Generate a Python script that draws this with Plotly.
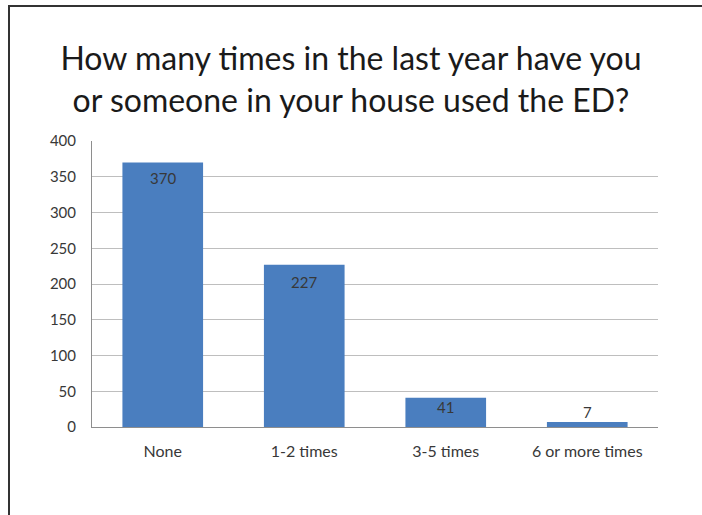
import plotly.graph_objects as go

categories = ["None", "1-2 times", "3-5 times", "6 or more times"]
values = [370, 227, 41, 7]
y_ticks = [0, 50, 100, 150, 200, 250, 300, 350, 400]

title_text = "How many times in the last year have you<br>or someone in your house used the ED?"

FONT = "Lato, 'Open Sans', sans-serif"
TEXT_COLOR = "#383838"
# vertical offset (px) of each value label from its bar top
label_shift = [-16, -17, -9, 10]

fig = go.Figure()
fig.add_trace(go.Bar(
    x=categories,
    y=values,
    marker=dict(color="#4A7EBF", line=dict(width=0)),
    width=0.57,
    hoverinfo="skip",
))

for cat, val, sh in zip(categories, values, label_shift):
    fig.add_annotation(
        x=cat, y=val, text=str(val),
        showarrow=False, xanchor="center", yanchor="middle", yshift=sh,
        font=dict(family=FONT, size=15, color=TEXT_COLOR),
    )

fig.update_layout(
    width=702,
    height=515,
    margin=dict(l=92, r=44, t=141, b=88),
    paper_bgcolor="white",
    plot_bgcolor="white",
    showlegend=False,
    title=dict(
        text=title_text,
        font=dict(family=FONT, size=32, color="#1a1a1a"),
        x=0.5,
        xanchor="center",
        y=1 - 70 / 515,
        yanchor="middle",
    ),
    font=dict(family=FONT, size=15, color=TEXT_COLOR),
    xaxis=dict(
        showgrid=False,
        showline=True,
        linecolor="#8E8E8E",
        linewidth=1,
        ticks="",
        tickfont=dict(family=FONT, size=16, color=TEXT_COLOR),
        ticklabelstandoff=10,
        fixedrange=True,
    ),
    yaxis=dict(
        range=[0, 400],
        tickvals=y_ticks,
        showgrid=True,
        gridcolor="#BEBEBE",
        gridwidth=1,
        showline=True,
        linecolor="#8E8E8E",
        linewidth=1,
        zeroline=False,
        ticks="",
        tickfont=dict(family=FONT, size=15, color=TEXT_COLOR),
        ticklabelstandoff=12,
        fixedrange=True,
    ),
)

# outer frame of the chart
fig.add_shape(
    type="rect",
    xref="paper", yref="paper",
    x0=(9 - 92) / 566, x1=(720 - 92) / 566,
    y0=(427 - 530) / 286, y1=(427 - 6) / 286,
    line=dict(color="#333333", width=2),
    fillcolor="rgba(0,0,0,0)",
    layer="above",
)

fig.write_html(
    "out.html",
    config={"displayModeBar": False},
    post_script="document.body.style.margin='0';document.body.style.overflow='hidden';",
)
